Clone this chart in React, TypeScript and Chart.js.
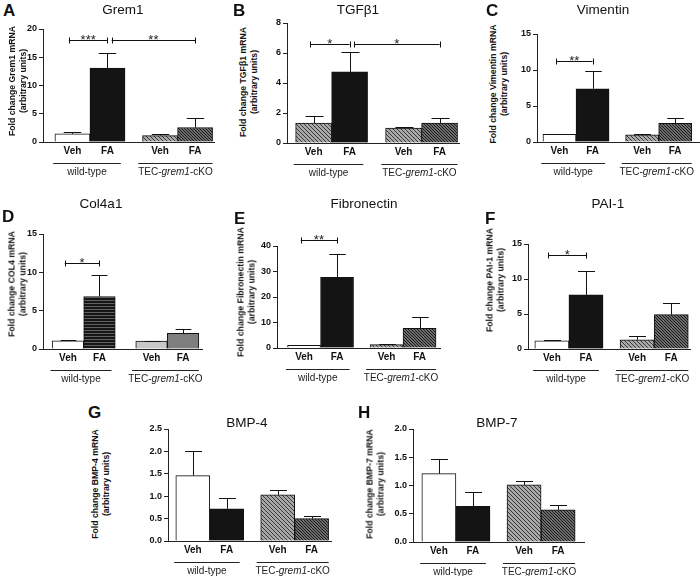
import React, { useEffect, useRef } from "react";
import { Chart, registerables } from "chart.js";
Chart.register(...registerables);

const FONT = "'Liberation Sans', Arial, Helvetica, sans-serif";

// ---------- data ----------
const treatments = ["Veh", "FA", "Veh", "FA"];
const genotypes = ["wild-type", "TEC-grem1-cKO"];

const grem1Mean = [1.43, 13.1, 1.13, 2.57];
const grem1Sem = [0.42, 2.7, 0.37, 1.67];
const grem1Ticks = [0, 5, 10, 15, 20];

const tgfb1Mean = [1.32, 4.74, 1.0, 1.32];
const tgfb1Sem = [0.51, 1.3, 0.08, 0.33];
const tgfb1Ticks = [0, 2, 4, 6, 8];

const vimentinMean = [1.06, 7.4, 1.0, 2.6];
const vimentinSem = [0.1, 2.5, 0.07, 0.7];
const vimentinTicks = [0, 5, 10, 15];

const col4a1Mean = [1.05, 6.85, 1.02, 2.05];
const col4a1Sem = [0.1, 2.85, 0.08, 0.6];
const col4a1Ticks = [0, 5, 10, 15];

const fibronectinMean = [1.0, 27.7, 1.3, 7.7];
const fibronectinSem = [0.2, 9.3, 0.4, 4.5];
const fibronectinTicks = [0, 10, 20, 30, 40];

const pai1Mean = [1.15, 7.74, 1.3, 4.92];
const pai1Sem = [0.15, 3.46, 0.56, 1.72];
const pai1Ticks = [0, 5, 10, 15];

const bmp4Mean = [1.46, 0.72, 1.03, 0.5];
const bmp4Sem = [0.54, 0.23, 0.11, 0.05];
const bmp4Ticks = [0, 0.5, 1.0, 1.5, 2.0, 2.5];

const bmp7Mean = [1.21, 0.63, 1.01, 0.57];
const bmp7Sem = [0.26, 0.26, 0.07, 0.08];
const bmp7Ticks = [0, 0.5, 1.0, 1.5, 2.0];

// significance brackets: bar index a -> bar index b, at data level, label
const grem1Sig = [
  { a: 0, b: 1, level: 18, label: "***" },
  { a: 1, b: 3, level: 18, label: "**" },
];
const tgfb1Sig = [
  { a: 0, b: 1, level: 6.6, label: "*" },
  { a: 1, b: 3, level: 6.6, label: "*" },
];
const vimentinSig = [{ a: 0, b: 1, level: 11.2, label: "**" }];
const col4a1Sig = [{ a: 0, b: 1, level: 11.2, label: "*" }];
const fibronectinSig = [{ a: 0, b: 1, level: 42.4, label: "**" }];
const pai1Sig = [{ a: 0, b: 1, level: 13.5, label: "*" }];

// ---------- layout / style ----------
type Sig = { a: number; b: number; level: number; label: string };
type PanelCfg = {
  letter: string;
  title: string;
  gene: string;
  mean: number[];
  sem: number[];
  ticks: number[];
  decimals: number;
  sig: Sig[];
  fills: string[];
  pos: number[];
  axisX: number;
  axisEnd: number;
  yTop: number;
  yZero: number;
  xMin: number;
  xMax: number;
  letterAt: [number, number];
  titleAt: [number, number];
  ylabelAt: [number, number];
};

const P4 = [0, 1, 2.5, 3.5];

const panels: PanelCfg[] = [
  {
    letter: "A", title: "Grem1", gene: "Grem1", mean: grem1Mean, sem: grem1Sem, ticks: grem1Ticks, decimals: 0,
    sig: grem1Sig, fills: ["white", "black", "hatchLight", "hatchDark"], pos: P4,
    axisX: 43, axisEnd: 214, yTop: 29, yZero: 142, xMin: -0.84, xMax: 4.04,
    letterAt: [3, 2], titleAt: [123, 10], ylabelAt: [17, 81],
  },
  {
    letter: "B", title: "TGFβ1", gene: "TGFβ1", mean: tgfb1Mean, sem: tgfb1Sem, ticks: tgfb1Ticks, decimals: 0,
    sig: tgfb1Sig, fills: ["hatchLight", "black", "hatchLight", "hatchDark"], pos: P4,
    axisX: 287, axisEnd: 459, yTop: 23, yZero: 143, xMin: -0.74, xMax: 4.04,
    letterAt: [233, 2], titleAt: [358, 10], ylabelAt: [248, 82],
  },
  {
    letter: "C", title: "Vimentin", gene: "Vimentin", mean: vimentinMean, sem: vimentinSem, ticks: vimentinTicks, decimals: 0,
    sig: vimentinSig, fills: ["white", "black", "hatchLight", "hatchDark"], pos: P4,
    axisX: 537, axisEnd: 700, yTop: 34, yZero: 142, xMin: -0.68, xMax: 4.25,
    letterAt: [486, 2], titleAt: [603, 10], ylabelAt: [498, 84],
  },
  {
    letter: "D", title: "Col4a1", gene: "COL4", mean: col4a1Mean, sem: col4a1Sem, ticks: col4a1Ticks, decimals: 0,
    sig: col4a1Sig, fills: ["white", "stripesBlack", "grayLight", "grayMid"], pos: [0, 1, 2.65, 3.65],
    axisX: 43, axisEnd: 202, yTop: 234, yZero: 349, xMin: -0.79, xMax: 4.25,
    letterAt: [2, 208], titleAt: [101, 204], ylabelAt: [17, 284],
  },
  {
    letter: "E", title: "Fibronectin", gene: "Fibronectin", mean: fibronectinMean, sem: fibronectinSem, ticks: fibronectinTicks, decimals: 0,
    sig: fibronectinSig, fills: ["white", "black", "hatchLight", "hatchDark"], pos: P4,
    axisX: 277, axisEnd: 440, yTop: 246, yZero: 348, xMin: -0.82, xMax: 4.12,
    letterAt: [234, 210], titleAt: [364, 204], ylabelAt: [246, 292],
  },
  {
    letter: "F", title: "PAI-1", gene: "PAI-1", mean: pai1Mean, sem: pai1Sem, ticks: pai1Ticks, decimals: 0,
    sig: pai1Sig, fills: ["white", "black", "hatchLight", "hatchDark"], pos: P4,
    axisX: 528, axisEnd: 690, yTop: 244, yZero: 349, xMin: -0.7, xMax: 4.05,
    letterAt: [485, 210], titleAt: [608, 204], ylabelAt: [495, 280],
  },
  {
    letter: "G", title: "BMP-4", gene: "BMP-4", mean: bmp4Mean, sem: bmp4Sem, ticks: bmp4Ticks, decimals: 1,
    sig: [], fills: ["white", "black", "hatchLight", "hatchDark"], pos: P4,
    axisX: 168, axisEnd: 331, yTop: 429, yZero: 541, xMin: -0.73, xMax: 4.07,
    letterAt: [88, 404], titleAt: [247, 423], ylabelAt: [100, 484],
  },
  {
    letter: "H", title: "BMP-7", gene: "BMP-7", mean: bmp7Mean, sem: bmp7Sem, ticks: bmp7Ticks, decimals: 1,
    sig: [], fills: ["white", "black", "hatchLight", "hatchDark"], pos: P4,
    axisX: 413, axisEnd: 584, yTop: 429, yZero: 542, xMin: -0.76, xMax: 4.26,
    letterAt: [358, 404], titleAt: [497, 423], ylabelAt: [375, 484],
  },
];

function hatch(bg: string, fg: string, step: number) {
  const c = document.createElement("canvas");
  c.width = step;
  c.height = step;
  const g = c.getContext("2d")!;
  g.fillStyle = bg;
  g.fillRect(0, 0, step, step);
  g.strokeStyle = fg;
  g.lineWidth = 1;
  g.beginPath();
  g.moveTo(-1, -1);
  g.lineTo(step + 1, step + 1);
  g.moveTo(-1, step - 1);
  g.lineTo(1, step + 1);
  g.moveTo(step - 1, -1);
  g.lineTo(step + 1, 1);
  g.stroke();
  return g.createPattern(c, "repeat")!;
}

function stripes(bg: string, fg: string, step: number) {
  const c = document.createElement("canvas");
  c.width = 4;
  c.height = step;
  const g = c.getContext("2d")!;
  g.fillStyle = bg;
  g.fillRect(0, 0, 4, step);
  g.fillStyle = fg;
  g.fillRect(0, 0, 4, 1);
  return g.createPattern(c, "repeat")!;
}

function makeFill(kind: string): string | CanvasPattern {
  switch (kind) {
    case "white": return "#ffffff";
    case "black": return "#141414";
    case "hatchLight": return hatch("#a8a8a8", "#3a3a3a", 4);
    case "hatchDark": return hatch("#6c6c6c", "#1c1c1c", 3);
    case "stripesBlack": return stripes("#161616", "#606060", 3);
    case "grayLight": return "#c8c8c8";
    case "grayMid": return "#7e7e7e";
    default: return "#999";
  }
}

const YW = 24;
const PT = 24;
const XH = 40;
const PR = 4;

function PanelChart({ p }: { p: PanelCfg }) {
  const ref = useRef<HTMLCanvasElement>(null);
  const left = p.axisX - YW;
  const top = p.yTop - PT;
  const width = p.axisEnd - left + PR;
  const height = p.yZero - p.yTop + PT + XH;

  useEffect(() => {
    if (!ref.current) return;
    const annot = {
      id: "annot",
      afterDatasetsDraw(chart: any) {
        const { ctx, scales, chartArea } = chart;
        const x = scales.x;
        const y = scales.y;
        const unit = x.getPixelForValue(1) - x.getPixelForValue(0);
        ctx.save();
        ctx.strokeStyle = "#111";
        ctx.lineWidth = 1;
        // error bars
        p.mean.forEach((m, i) => {
          const cx = Math.round(x.getPixelForValue(p.pos[i])) + 0.5;
          const y0 = y.getPixelForValue(m);
          const y1 = Math.round(y.getPixelForValue(m + p.sem[i])) + 0.5;
          ctx.beginPath();
          ctx.moveTo(cx, y0);
          ctx.lineTo(cx, y1);
          ctx.moveTo(cx - unit * 0.25, y1);
          ctx.lineTo(cx + unit * 0.25, y1);
          ctx.stroke();
        });
        // significance brackets
        let prevEnd = -1;
        p.sig.forEach((s) => {
          const xa = x.getPixelForValue(p.pos[s.a] + (s.a === prevEnd ? 0.12 : -0.1));
          const xb = x.getPixelForValue(p.pos[s.b]);
          prevEnd = s.b;
          const yy = Math.round(y.getPixelForValue(s.level)) + 0.5;
          ctx.beginPath();
          ctx.moveTo(xa, yy);
          ctx.lineTo(xb, yy);
          ctx.moveTo(Math.round(xa) + 0.5, yy - 3);
          ctx.lineTo(Math.round(xa) + 0.5, yy + 3);
          ctx.moveTo(Math.round(xb) + 0.5, yy - 3);
          ctx.lineTo(Math.round(xb) + 0.5, yy + 3);
          ctx.stroke();
          ctx.fillStyle = "#222";
          ctx.font = `13px ${FONT}`;
          ctx.textAlign = "center";
          ctx.textBaseline = "alphabetic";
          ctx.fillText(s.label, (xa + xb) / 2, yy + 3);
        });
        // group lines and labels
        const gy = Math.round(chartArea.bottom + 21) + 0.5;
        const spans = [
          [p.pos[0] - 0.55, p.pos[1] + 0.38],
          [p.pos[2] - 0.62, p.pos[3] + 0.5],
        ];
        ctx.strokeStyle = "#222";
        spans.forEach(([a, b], gi) => {
          const xa = x.getPixelForValue(a);
          const xb = x.getPixelForValue(b);
          ctx.beginPath();
          ctx.moveTo(xa, gy);
          ctx.lineTo(xb, gy);
          ctx.stroke();
          const mid = (xa + xb) / 2;
          const ly = chartArea.bottom + 33;
          ctx.fillStyle = "#222";
          ctx.textBaseline = "alphabetic";
          ctx.textAlign = "left";
          const name = genotypes[gi];
          if (name.includes("grem1")) {
            const parts = [
              { t: "TEC-", f: `10px ${FONT}` },
              { t: "grem1", f: `italic 10px ${FONT}` },
              { t: "-cKO", f: `10px ${FONT}` },
            ];
            let total = 0;
            parts.forEach((pt) => {
              ctx.font = pt.f;
              total += ctx.measureText(pt.t).width;
            });
            let cx = mid - total / 2;
            parts.forEach((pt) => {
              ctx.font = pt.f;
              ctx.fillText(pt.t, cx, ly);
              cx += ctx.measureText(pt.t).width;
            });
          } else {
            ctx.font = `10px ${FONT}`;
            ctx.textAlign = "center";
            ctx.fillText(name, mid, ly);
          }
        });
        ctx.restore();
      },
    };

    const chart = new Chart(ref.current, {
      type: "bar",
      data: {
        datasets: [
          {
            data: p.mean.map((v, i) => ({ x: p.pos[i], y: v })),
            backgroundColor: p.fills.map(makeFill) as any,
            borderColor: "#111",
            borderWidth: 1,
            barPercentage: 1,
            categoryPercentage: 1,
          },
        ],
      },
      options: {
        responsive: false,
        maintainAspectRatio: false,
        animation: false,
        devicePixelRatio: 1,
        layout: { padding: { top: PT, right: PR, left: 0, bottom: 0 } },
        plugins: { legend: { display: false }, tooltip: { enabled: false }, title: { display: false } },
        scales: {
          x: {
            type: "linear",
            offset: false,
            min: p.xMin,
            max: p.xMax,
            grid: { display: false, drawTicks: false, offset: false },
            border: { display: true, color: "#222", width: 1 },
            ticks: {
              autoSkip: false,
              maxRotation: 0,
              padding: 3,
              color: "#111",
              font: { family: FONT, size: 10, weight: "bold" },
              callback: (_v: any, i: number) => treatments[i],
            },
            afterBuildTicks: (s: any) => {
              s.ticks = p.pos.map((v) => ({ value: v }));
            },
            afterFit: (s: any) => {
              s.height = XH;
            },
          },
          y: {
            min: 0,
            max: p.ticks[p.ticks.length - 1],
            grid: { display: true, drawOnChartArea: false, drawTicks: true, tickLength: 4, color: "#222" },
            border: { display: true, color: "#222", width: 1 },
            ticks: {
              padding: 2,
              color: "#111",
              font: { family: FONT, size: 9, weight: "bold" },
              callback: (v: any) => (p.decimals ? Number(v).toFixed(p.decimals) : String(v)),
            },
            afterBuildTicks: (s: any) => {
              s.ticks = p.ticks.map((v) => ({ value: v }));
            },
            afterFit: (s: any) => {
              s.width = YW;
            },
          },
        },
      } as any,
      plugins: [annot as any],
    });
    return () => chart.destroy();
  }, []);

  return (
    <canvas
      ref={ref}
      width={width}
      height={height}
      style={{ position: "absolute", left, top, width, height }}
    />
  );
}

function PanelText({ p }: { p: PanelCfg }) {
  return (
    <>
      <div
        style={{
          position: "absolute",
          left: p.letterAt[0],
          top: p.letterAt[1],
          font: `bold 17px ${FONT}`,
          lineHeight: "17px",
          color: "#111",
        }}
      >
        {p.letter}
      </div>
      <div
        style={{
          position: "absolute",
          left: p.titleAt[0],
          top: p.titleAt[1],
          transform: "translate(-50%, -50%)",
          font: `13.5px ${FONT}`,
          lineHeight: "14px",
          color: "#111",
          whiteSpace: "nowrap",
        }}
      >
        {p.title}
      </div>
      <div
        style={{
          position: "absolute",
          left: p.ylabelAt[0],
          top: p.ylabelAt[1],
          transform: "translate(-50%, -50%) rotate(-90deg)",
          font: `bold 8.7px ${FONT}`,
          lineHeight: "10.5px",
          color: "#111",
          whiteSpace: "nowrap",
          textAlign: "center",
        }}
      >
        Fold change {p.gene} mRNA
        <br />
        (arbitrary units)
      </div>
    </>
  );
}

export default function App() {
  return (
    <div
      style={{
        position: "fixed",
        left: 0,
        top: 0,
        width: 700,
        height: 576,
        background: "#ffffff",
        overflow: "hidden",
      }}
    >
      {panels.map((p) => (
        <React.Fragment key={p.letter}>
          <PanelChart p={p} />
          <PanelText p={p} />
        </React.Fragment>
      ))}
    </div>
  );
}
